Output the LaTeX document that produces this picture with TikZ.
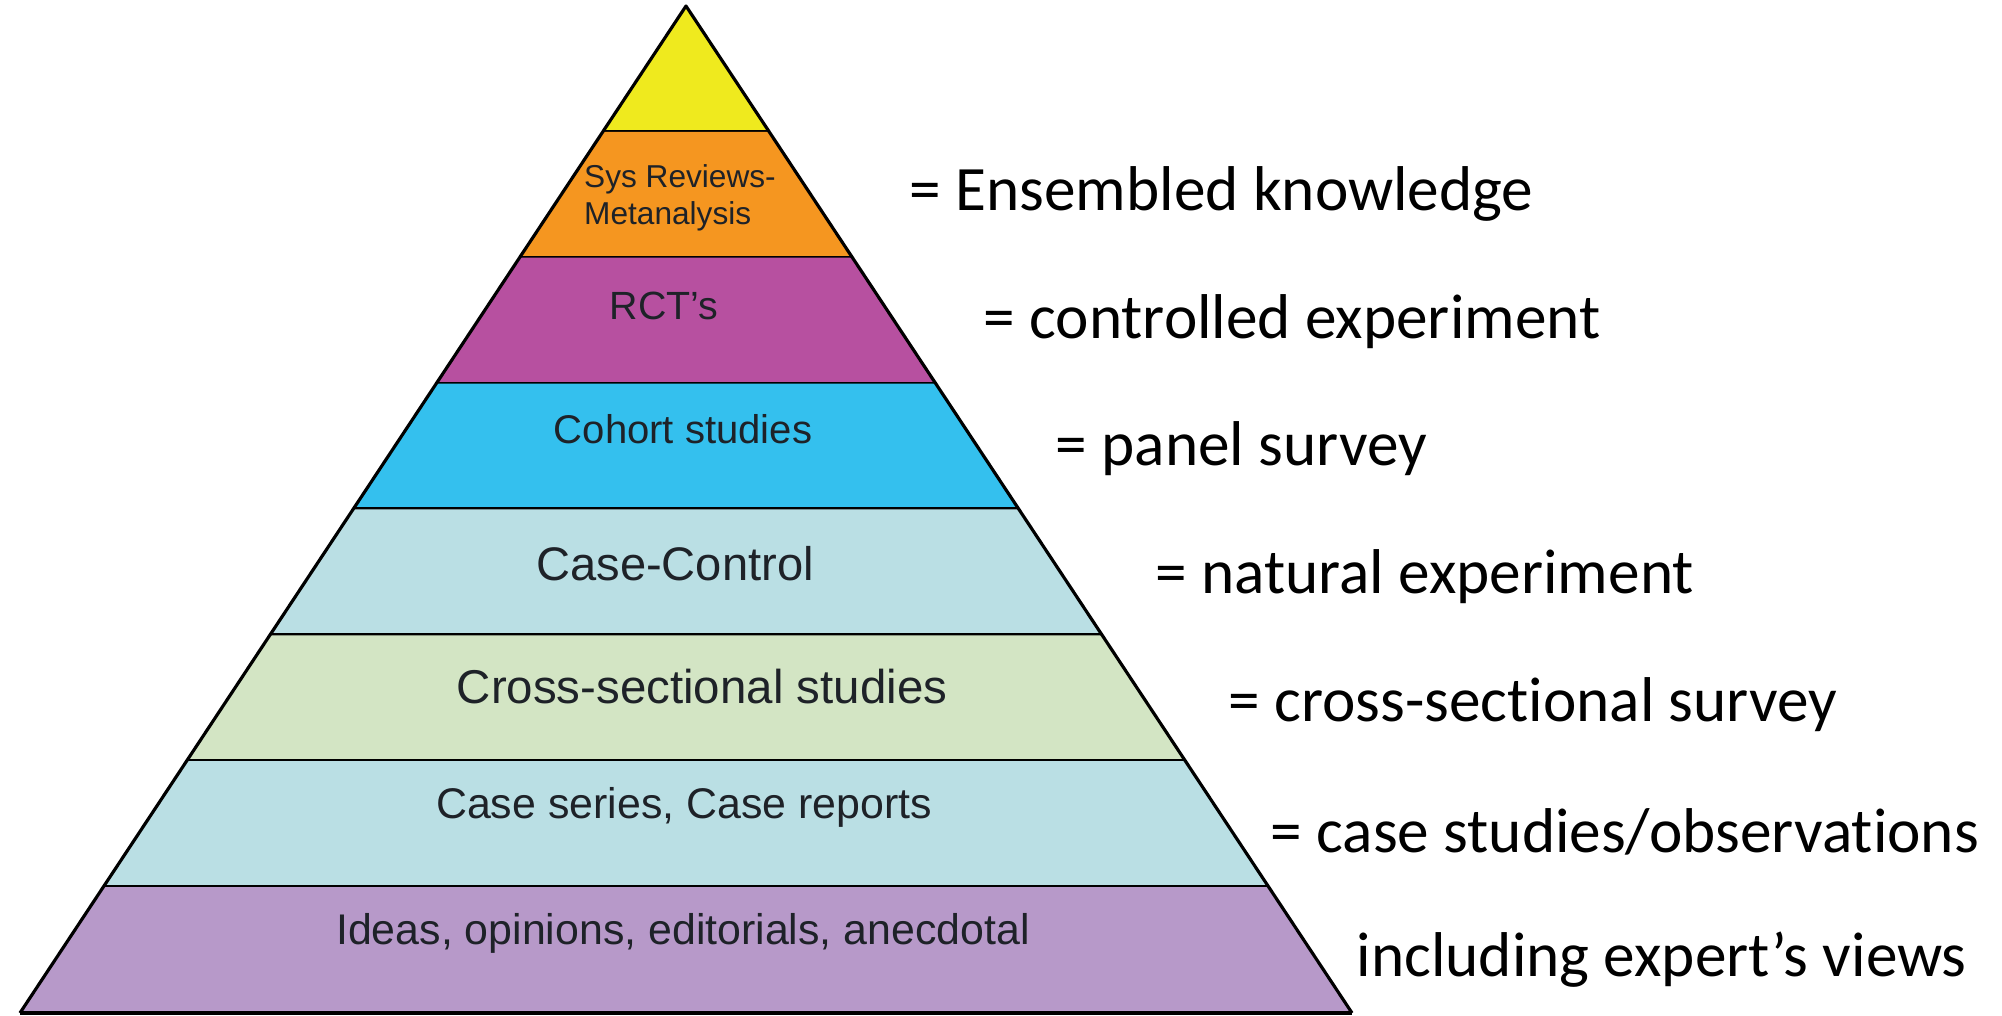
\documentclass[tikz,border=0pt]{standalone}
\usepackage{fontspec}
\setmainfont{Liberation Sans}
\newfontfamily\notefont[Ligatures=NoCommon]{Carlito}
\usepackage{tikz}
\usetikzlibrary{positioning}
\usepackage{xcolor}
\definecolor{pyyellow}{RGB}{239,234,30}
\definecolor{pyorange}{RGB}{245,150,32}
\definecolor{pymagenta}{RGB}{183,80,160}
\definecolor{pyblue}{RGB}{52,192,238}
\definecolor{pylightblue}{RGB}{186,223,228}
\definecolor{pylightgreen}{RGB}{211,229,196}
\definecolor{pylavender}{RGB}{183,153,201}
\definecolor{pytext}{RGB}{30,34,40}
\tikzstyle{bandline} = [line width=1.2pt, color=black]
\tikzstyle{sideline} = [line width=0.9pt, color=black, line join=round]
\tikzstyle{level} = [text=pytext, inner sep=0pt]
\tikzstyle{note} = [anchor=west, inner sep=0pt, font=\notefont\fontsize{18}{21}\selectfont]

\begin{document}
\begin{tikzpicture}
\useasboundingbox (0,0) rectangle (20.02,10.16);
\def\apx{6.86}
\def\apy{10.10}
\def\bh{1.25875}
\def\sl{0.6614}
\coordinate (apex) at (\apx,\apy);
\coordinate (bl) at ({\apx-\sl*8*\bh},{\apy-8*\bh});
\coordinate (br) at ({\apx+\sl*8*\bh},{\apy-8*\bh});

% bands of the pyramid
\foreach \c [count=\i from 0] in {pyyellow,pyorange,pymagenta,pyblue,pylightblue,pylightgreen,pylightblue,pylavender} {
  \pgfmathsetmacro\yt{\apy-\i*\bh}
  \pgfmathsetmacro\yb{\apy-(\i+1)*\bh}
  \pgfmathsetmacro\wt{\sl*\i*\bh}
  \pgfmathsetmacro\wb{\sl*(\i+1)*\bh}
  \fill[\c] (\apx-\wt,\yt) -- (\apx+\wt,\yt) -- (\apx+\wb,\yb) -- (\apx-\wb,\yb) -- cycle;
  \draw[bandline] (\apx-\wb,\yb) -- (\apx+\wb,\yb);
}
\draw[sideline] (bl) -- (apex) -- (br);

% levels
\node[level, align=left, font=\fontsize{9}{10.5}\selectfont] (sys) at (6.80,8.18) {Sys Reviews-\\Metanalysis};
\node[level, font=\fontsize{11.2}{13}\selectfont] (rct) at (6.64,7.10) {RCT’s};
\node[level, font=\fontsize{11.4}{13}\selectfont] (cohort) at (6.83,5.87) {Cohort studies};
\node[level, font=\fontsize{13.4}{15}\selectfont] (casectl) at (6.75,4.52) {Case-Control};
\node[level, font=\fontsize{13.5}{15}\selectfont] (cross) at (7.02,3.29) {Cross-sectional studies};
\node[level, font=\fontsize{12.2}{14}\selectfont] (series) at (6.84,2.09) {Case series, Case reports};
\node[level, font=\fontsize{12.2}{14}\selectfont] (ideas) at (6.83,0.83) {Ideas, opinions, editorials, anecdotal};

% equivalents
\node[note] (ens) at (9.09,8.22) {= Ensembled knowledge};
\node[note] (ctrl) at (9.83,6.94) {= controlled experiment};
\node[note] (panel) at (10.55,5.67) {= panel survey};
\node[note] (natural) at (11.55,4.39) {= natural experiment};
\node[note] (xsurvey) at (12.28,3.11) {= cross-sectional survey};
\node[note] (cases) at (12.70,1.84) {= case studies/observations};
\node[note] (expert) at (13.56,0.56) {including expert’s views};
\end{tikzpicture}
\end{document}
